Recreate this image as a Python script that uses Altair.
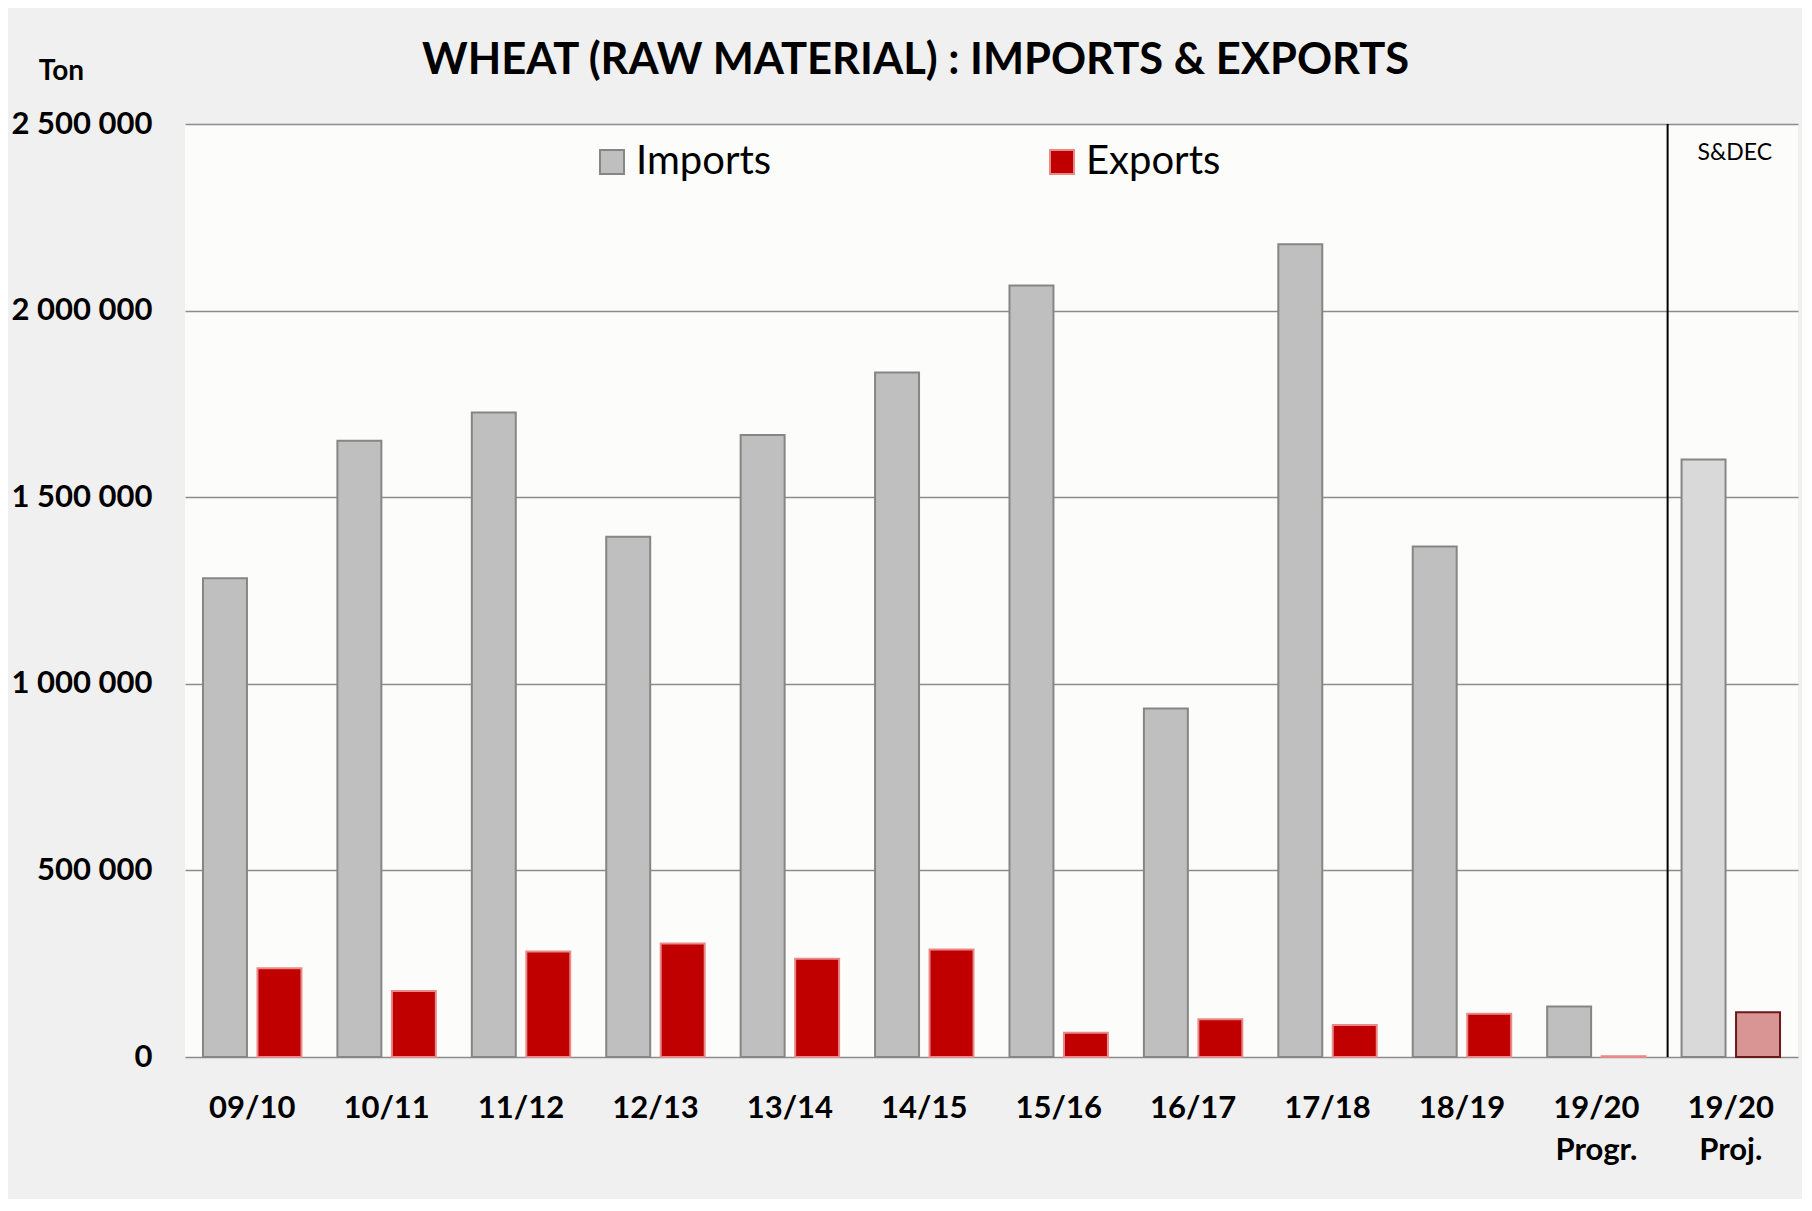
import altair as alt
import pandas as pd

categories = ["09/10", "10/11", "11/12", "12/13", "13/14", "14/15", "15/16",
              "16/17", "17/18", "18/19", "19/20|Progr.", "19/20|Proj."]
imports = [1283000, 1651000, 1727000, 1394000, 1667000, 1834000, 2067000,
           934000, 2178000, 1368000, 135000, 1601000]
exports = [238000, 177000, 283000, 304000, 263000, 288000, 65000,
           101000, 86000, 116000, 2000, 120000]
projected = [False] * 11 + [True]
series_names = ["Imports", "Exports"]
y_ticks = [0, 500000, 1000000, 1500000, 2000000, 2500000]
y_tick_labels = ["0", "500 000", "1 000 000", "1 500 000", "2 000 000", "2 500 000"]

key_domain = ["Imports", "Exports", "Imports proj", "Exports proj"]
fill_range = ["#bfbfbf", "#c00000", "#d9d9d9", "#d99594"]
stroke_range = ["#868686", "#e88a8a", "#868686", "#6b1a1a"]

rows = []
for c, imp, exp, proj in zip(categories, imports, exports, projected):
    for s, v in zip(series_names, [imp, exp]):
        rows.append({"period": c, "series": s, "value": v,
                     "key": s + (" proj" if proj else "")})
df = pd.DataFrame(rows)

FONT = "Lato"

y_label_expr = ("[" + ",".join("'%s'" % t for t in y_tick_labels) + "]"
                "[indexof([" + ",".join(str(v) for v in y_ticks) + "], datum.value)]")

x_enc = alt.X(
    "period:N", sort=categories,
    scale=alt.Scale(paddingInner=0, paddingOuter=0),
    axis=alt.Axis(title=None, labelExpr="split(datum.label, '|')",
                  labelFont=FONT, labelFontWeight="bold", labelFontSize=31,
                  labelColor="black", labelPadding=36, labelLineHeight=42,
                  ticks=False, domain=False, labelAngle=0, grid=False),
)
y_enc = alt.Y(
    "value:Q",
    scale=alt.Scale(domain=[0, 2500000], nice=False),
    axis=alt.Axis(values=y_ticks, labelExpr=y_label_expr,
                  title="Ton", titleAngle=0, titleX=-124, titleY=-53,
                  titleAlign="center", titleBaseline="middle",
                  titleFont=FONT, titleFontSize=28, titleFontWeight="bold",
                  titleColor="black",
                  grid=True, gridColor="#8c8c8c", gridWidth=1.6,
                  domain=False, ticks=False, labelPadding=33,
                  labelFont=FONT, labelFontSize=31, labelFontWeight="bold",
                  labelColor="black"),
)

legend = alt.Legend(values=series_names, orient="none", legendX=407, legendY=18,
                    direction="horizontal", title=None, symbolType="square",
                    symbolSize=576, symbolStrokeWidth=2, labelFont=FONT,
                    labelFontSize=40, labelColor="black", columnPadding=270,
                    labelOffset=4, padding=0)

bars = alt.Chart(df).mark_bar(strokeWidth=2).encode(
    x=x_enc,
    xOffset=alt.XOffset("series:N", sort=series_names,
                        scale=alt.Scale(paddingInner=0.193, paddingOuter=0.33)),
    y=y_enc,
    fill=alt.Fill("key:N", scale=alt.Scale(domain=key_domain, range=fill_range),
                  legend=legend),
    stroke=alt.Stroke("key:N", scale=alt.Scale(domain=key_domain, range=stroke_range),
                      legend=legend),
)

sep = alt.Chart(pd.DataFrame({"period": [categories[-1]]})).mark_rule(
    color="black", strokeWidth=2
).encode(
    x=alt.X("period:N", sort=categories, bandPosition=0.03),
    y=alt.datum(0),
    y2=alt.datum(2500000),
)

note = alt.Chart(pd.DataFrame({"period": [categories[-1]], "label": ["S&DEC"],
                               "value": [2500000]})).mark_text(
    font=FONT, fontSize=23, baseline="middle", dy=29, dx=4, color="black"
).encode(
    x=alt.X("period:N", sort=categories),
    y=alt.Y("value:Q"),
    text="label:N",
)

chart = alt.layer(bars, sep, note).properties(
    width=1613, height=933,
    title=alt.Title("WHEAT (RAW MATERIAL) : IMPORTS & EXPORTS", font=FONT,
                    fontSize=43.5, fontWeight="bold", color="black",
                    anchor="middle", dx=-76, offset=-26),
    autosize=alt.AutoSizeParams(type="none"),
    padding={"left": 177, "top": 116, "right": 4, "bottom": 142},
).configure(background="#f0f0f0").configure_view(fill="#fcfcfb", stroke=None)

chart.save("out.html", embed_options={"renderer": "svg", "actions": False})
